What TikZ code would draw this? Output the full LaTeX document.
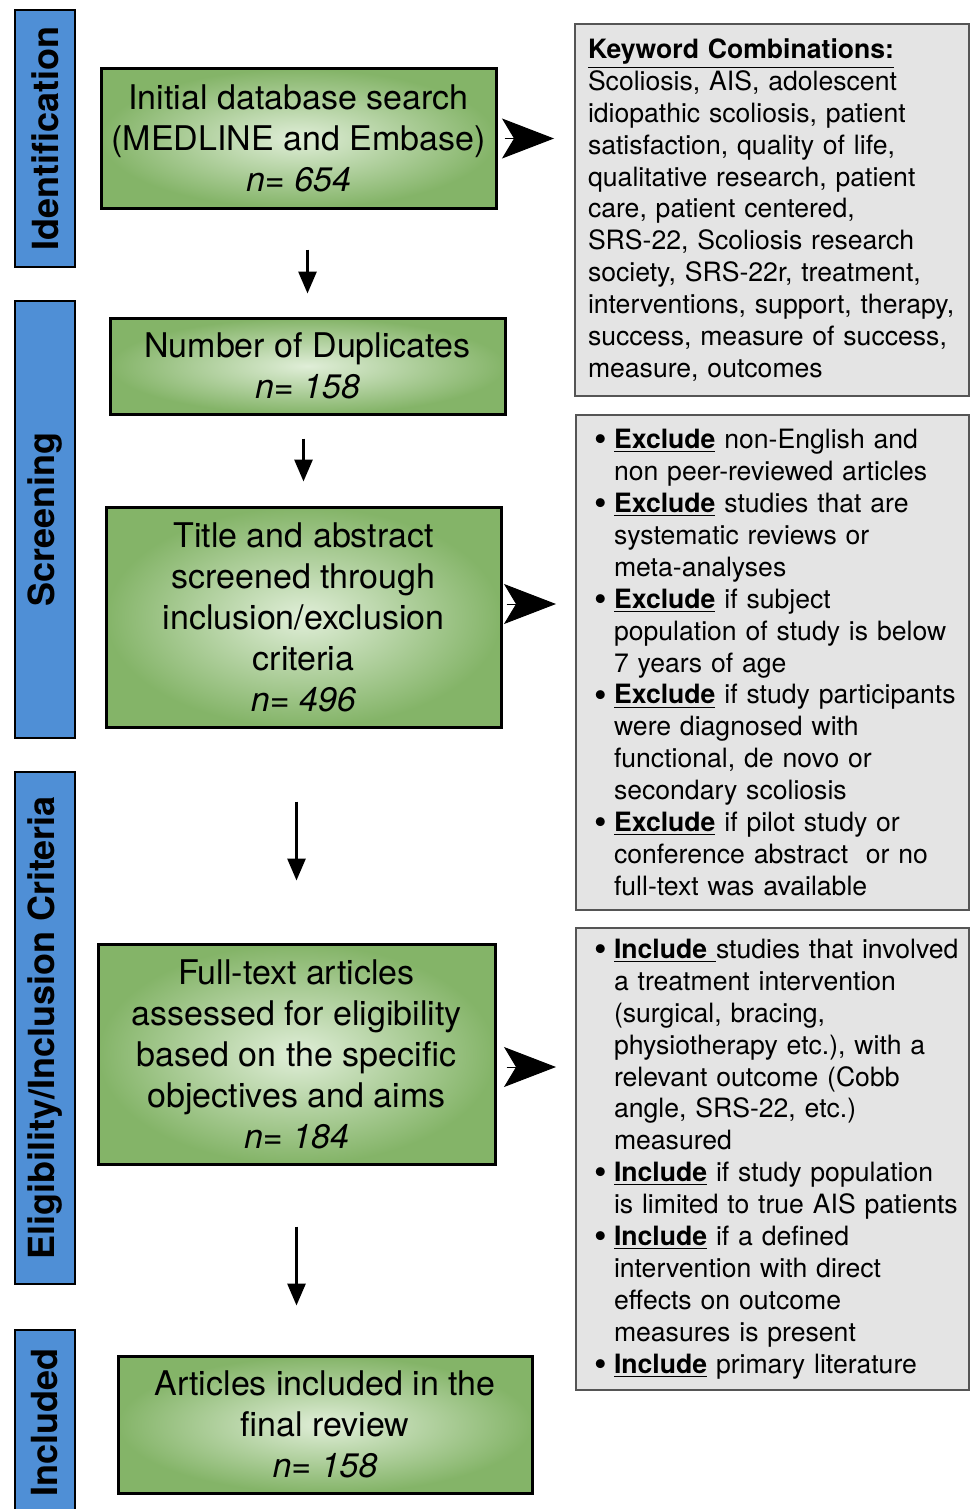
\documentclass[tikz,border=0pt]{standalone}
\usepackage{fontspec}
\setmainfont{TeX Gyre Heros}
\usetikzlibrary{arrows.meta,shadings}
\definecolor{barblue}{RGB}{79,143,214}
\definecolor{greenout}{RGB}{132,180,104}
\definecolor{greenin}{RGB}{224,238,216}
\definecolor{boxgray}{RGB}{228,228,228}
\definecolor{edgegray}{RGB}{85,85,85}
\newcommand{\bitem}{\hspace*{6pt}\makebox[10pt][l]{\raisebox{-0.12em}{\scalebox{1.35}{\textbullet}}}}
\newcommand{\cont}{\hspace*{16pt}}
\newcommand{\ulbf}[1]{\underline{\textbf{#1}}}
\begin{document}
\begin{tikzpicture}[x=0.5pt,y=-0.5pt,
    stage/.style={draw=black,line width=1pt,fill=barblue,rotate=90,minimum height=30pt,inner sep=0pt,font=\fontsize{18}{21}\selectfont\bfseries},
    stepbox/.style={draw=black,line width=1.5pt,inner color=greenin,outer color=greenout,align=center,inner sep=0pt,font=\fontsize{17}{20.5}\selectfont},
    notebox/.style={draw=edgegray,line width=1pt,fill=boxgray,text width=184pt,inner xsep=6.5pt,inner ysep=0pt,align=left,font=\fontsize{13.3}{15.95}\selectfont\setlength{\parindent}{0pt}},
    down/.style={line width=1.5pt,-{Triangle[length=11pt,width=9pt]}},
    side/.style={line width=0.5pt,-{Stealth[length=26pt,width=20pt,inset=6pt]}}]
    \useasboundingbox (0,0) rectangle (970,1509);
    \clip (0,0) rectangle (970,1509);
    % stages
    \node[stage,minimum width=128.5pt] (idbar) at (45,138.5) {Identification};
    \node[stage,minimum width=218.5pt] (scrbar) at (45,519.5) {Screening};
    \node[stage,minimum width=256pt] (eligbar) at (45,1028) {Eligibility/Inclusion Criteria};
    \node[stage,minimum width=92.5pt] (inclbar) at (45,1422.5) {Included};
    % flow
    \node[stepbox,minimum width=197.5pt,minimum height=69.5pt] (search) at (298.5,138.5) {Initial database search\\(MEDLINE and Embase)\\\textit{n= 654}};
    \node[stepbox,minimum width=197.5pt,minimum height=48pt] (dup) at (307.5,366) {Number of Duplicates\\\textit{n= 158}};
    \node[stepbox,minimum width=197.5pt,minimum height=110pt] (screen) at (303.5,617) {Title and abstract\\screened through\\inclusion/exclusion\\criteria\\\textit{n= 496}};
    \node[stepbox,minimum width=198.5pt,minimum height=110pt] (full) at (296.5,1054) {Full-text articles\\assessed for eligibility\\based on the specific\\objectives and aims\\\textit{n= 184}};
    \node[stepbox,minimum width=207pt,minimum height=68.5pt] (final) at (325,1424.5) {Articles included in the\\final review\\\textit{n= 158}};
    % notes
    \node[notebox,minimum height=186pt] (kw) at (772,210) {\ulbf{Keyword Combinations:}\\
        Scoliosis, AIS, adolescent\\
        idiopathic scoliosis, patient\\
        satisfaction, quality of life,\\
        qualitative research, patient\\
        care, patient centered,\\
        SRS-22, Scoliosis research\\
        society, SRS-22r, treatment,\\
        interventions, support, therapy,\\
        success, measure of success,\\
        measure, outcomes};
    \node[notebox,text width=190.5pt,inner xsep=3pt,minimum height=247.5pt] (excl) at (772.5,662.5) {\bitem\ulbf{Exclude} non-English and\\
        \cont non peer-reviewed articles\\
        \bitem\ulbf{Exclude} studies that are\\
        \cont systematic reviews or\\
        \cont meta-analyses\\
        \bitem\ulbf{Exclude} if subject\\
        \cont population of study is below\\
        \cont 7 years of age\\
        \bitem\ulbf{Exclude} if study participants\\
        \cont were diagnosed with\\
        \cont functional, de novo or\\
        \cont secondary scoliosis\\
        \bitem\ulbf{Exclude} if pilot study or\\
        \cont conference abstract\ \ or no\\
        \cont full-text was available};
    \node[notebox,text width=190.5pt,inner xsep=3pt,minimum height=231pt] (incl) at (772.5,1159) {\bitem\underline{\textbf{Include}\ }studies that involved\\
        \cont a treatment intervention\\
        \cont (surgical, bracing,\\
        \cont physiotherapy etc.), with a\\
        \cont relevant outcome (Cobb\\
        \cont angle, SRS-22, etc.)\\
        \cont measured\\
        \bitem\ulbf{Include} if study population\\
        \cont is limited to true AIS patients\\
        \bitem\ulbf{Include} if a defined\\
        \cont intervention with direct\\
        \cont effects on outcome\\
        \cont measures is present\\
        \bitem\ulbf{Include} primary literature};
    % arrows
    \draw[down,shorten <=20pt,shorten >=11.5pt] (dup.north |- search.south) -- (dup.north);
    \draw[down,shorten <=11.5pt,shorten >=12pt] (screen.north |- dup.south) -- (screen.north);
    \draw[down,shorten <=36.5pt,shorten >=31pt] (full.north |- screen.south) -- (full.north);
    \draw[down,shorten <=30.5pt,shorten >=24.5pt] (full.south) -- (full.south |- final.north);
    \coordinate (outa) at ([yshift=6.5pt]screen.east);
    \coordinate (outb) at ([yshift=-6.5pt]full.east);
    \draw[side,shorten <=3.5pt,shorten >=10pt] (search.east) -- (search.east -| kw.west);
    \draw[side,shorten <=2pt,shorten >=9.5pt] (outa) -- (outa -| excl.west);
    \draw[side,shorten <=5pt,shorten >=9.5pt] (outb) -- (outb -| incl.west);
\end{tikzpicture}
\end{document}
